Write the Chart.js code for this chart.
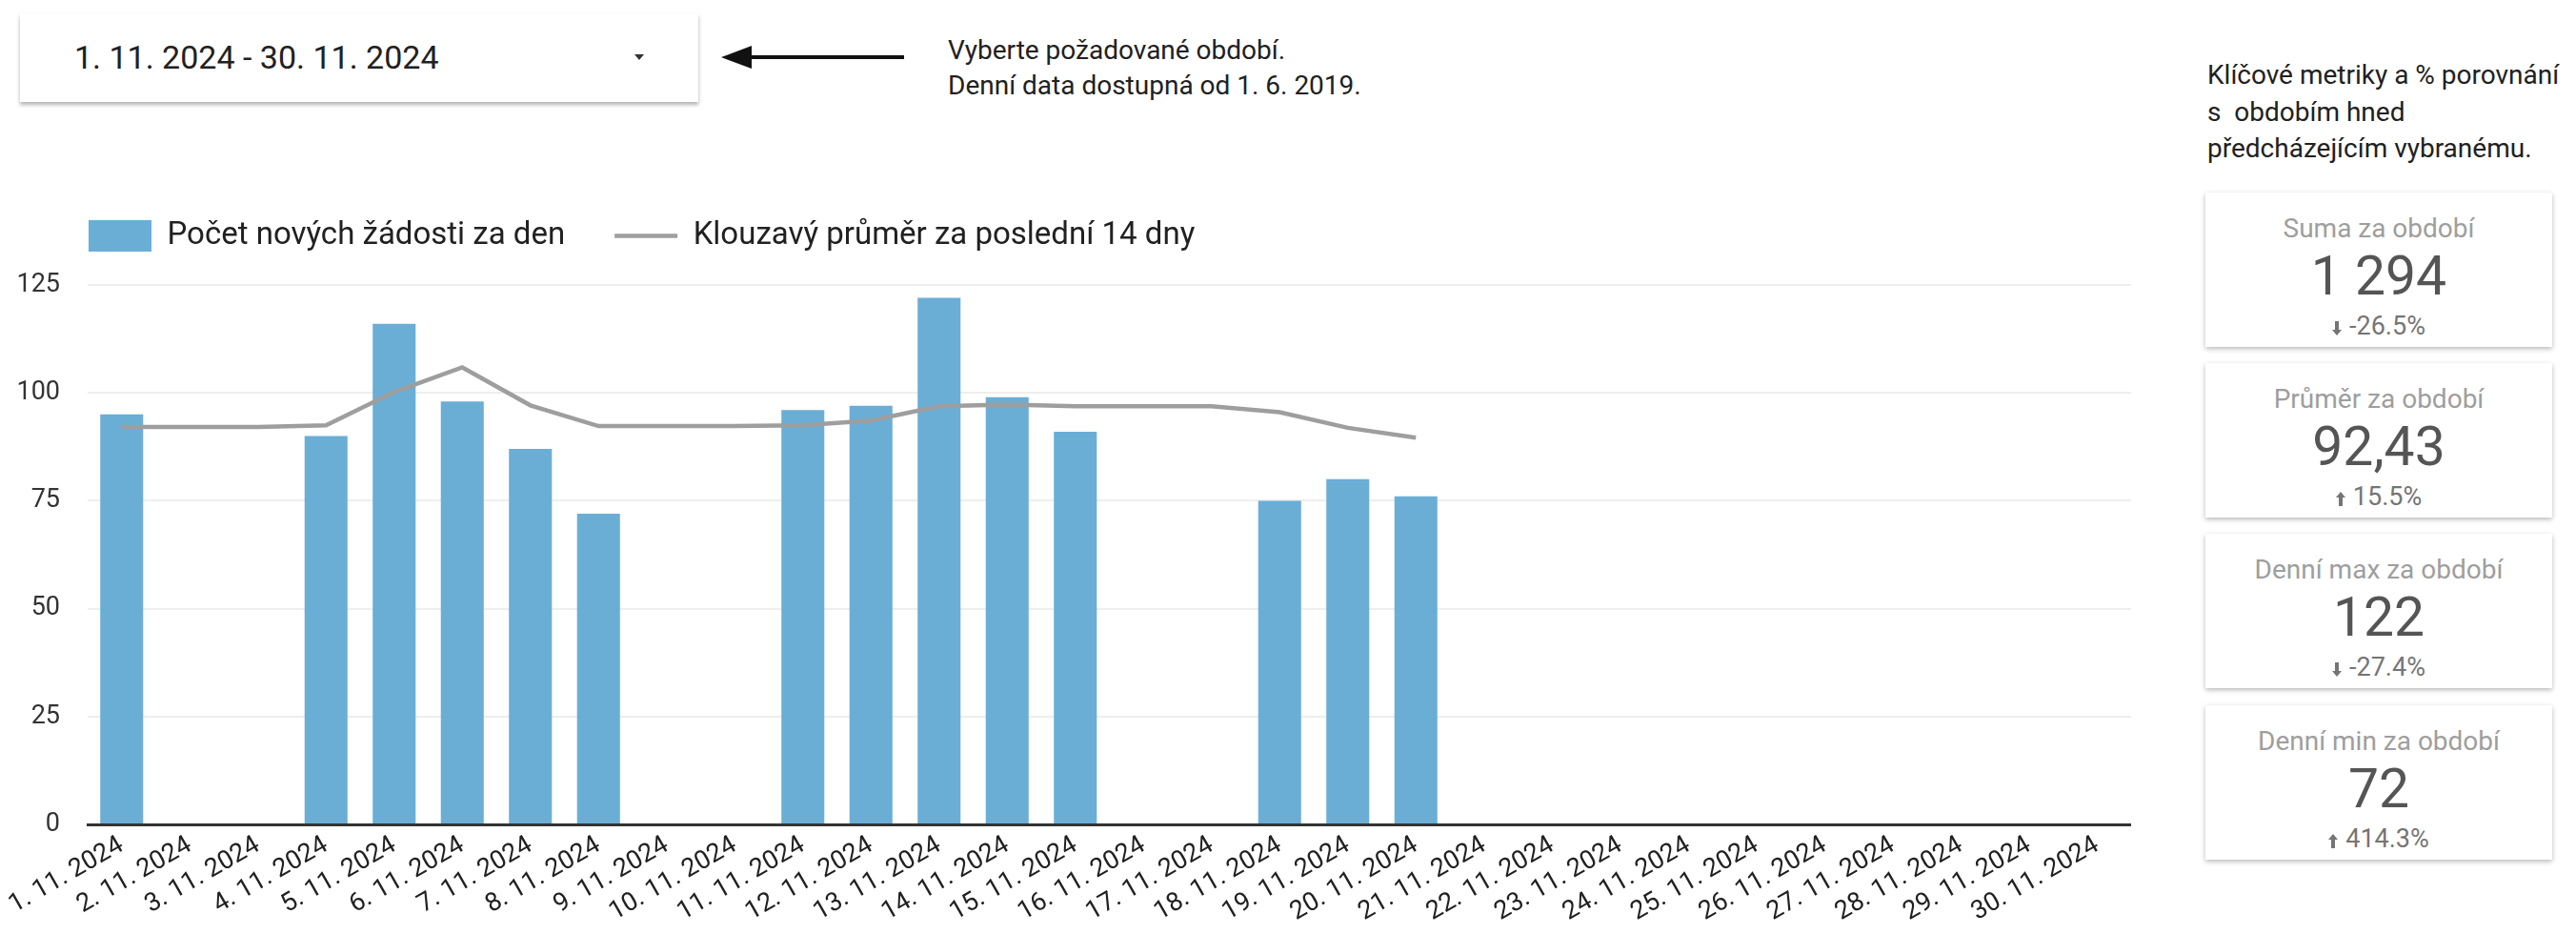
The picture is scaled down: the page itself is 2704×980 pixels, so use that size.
<!DOCTYPE html>
<html lang="cs">
<head>
<meta charset="utf-8">
<title>Počet nových žádostí</title>
<script src="https://cdn.jsdelivr.net/npm/chart.js@4/dist/chart.umd.min.js"></script>
<style>
  body { margin: 0; width: 2704px; height: 980px; background: #fff; font-family: Roboto, sans-serif; color: #212121; position: relative; overflow: hidden; }
  .picker { position: absolute; left: 21px; top: 14px; width: 712px; height: 93px; background: #fff; box-shadow: 0 3px 4px rgba(0,0,0,0.3); }
  .picker span { position: absolute; left: 57px; top: 0; line-height: 93px; font-size: 34px; color: #212121; }
  .picker i { position: absolute; left: 645px; top: 43px; border-left: 5px solid transparent; border-right: 5px solid transparent; border-top: 6px solid #333; }
  .arrow { position: absolute; left: 757px; top: 46px; }
  .note { position: absolute; left: 995px; top: 34px; font-size: 28px; line-height: 37px; }
  .side { position: absolute; left: 2317px; top: 60px; font-size: 28px; line-height: 38.5px; }
  .card { position: absolute; left: 2315px; width: 364px; height: 162px; background: #fff; box-shadow: 0 2px 5px rgba(0,0,0,0.28); text-align: center; }
  .card .t { position: absolute; left: 0; right: 0; top: 21px; font-size: 28px; color: #9e9e9e; }
  .card .v { position: absolute; left: 0; right: 0; top: 54px; font-size: 57px; color: #555; }
  .card .c { position: absolute; left: 0; right: 0; top: 124px; font-size: 27px; color: #757575; }
  .card svg { vertical-align: -1px; margin-right: 8px; }
  #chartBox { position: absolute; left: 0; top: 204px; width: 2237px; height: 776px; }
</style>
</head>
<body>

<div class="picker"><span>1. 11. 2024 - 30. 11. 2024</span><i></i></div>
<svg class="arrow" width="194" height="28" viewBox="0 0 194 28">
  <line x1="26" y1="14" x2="192" y2="14" stroke="#111" stroke-width="4"/>
  <polygon points="0,14 32,2 32,26" fill="#111"/>
</svg>
<div class="note">Vyberte požadované období.<br>Denní data dostupná od 1. 6. 2019.</div>

<div class="side">Klíčové metriky a % porovnání<br>s&nbsp; obdobím hned<br>předcházejícím vybranému.</div>
<div id="cards"></div>

<div id="chartBox"><canvas id="requestsChart"></canvas></div>

<script>
// days of the selected period
const days = [
  '1. 11. 2024', '2. 11. 2024', '3. 11. 2024', '4. 11. 2024', '5. 11. 2024',
  '6. 11. 2024', '7. 11. 2024', '8. 11. 2024', '9. 11. 2024', '10. 11. 2024',
  '11. 11. 2024', '12. 11. 2024', '13. 11. 2024', '14. 11. 2024', '15. 11. 2024',
  '16. 11. 2024', '17. 11. 2024', '18. 11. 2024', '19. 11. 2024', '20. 11. 2024',
  '21. 11. 2024', '22. 11. 2024', '23. 11. 2024', '24. 11. 2024', '25. 11. 2024',
  '26. 11. 2024', '27. 11. 2024', '28. 11. 2024', '29. 11. 2024', '30. 11. 2024'
];

// new requests per day (no data on weekends / after 20. 11.)
const newRequests = [
  95, null, null, 90, 116, 98, 87, 72, null, null,
  96, 97, 122, 99, 91, null, null, 75, 80, 76,
  null, null, null, null, null, null, null, null, null, null
];

// 14-day moving average
const movingAvg = [
  92.1, 92.1, 92.1, 92.5, 100.2, 105.9, 97.1, 92.3, 92.3, 92.3,
  92.5, 93.6, 96.9, 97.3, 96.9, 96.9, 96.9, 95.5, 91.9, 89.6,
  null, null, null, null, null, null, null, null, null, null
];

const yTicks = [0, 25, 50, 75, 100, 125];

// scorecards on the right
const cardTitles = ['Suma za období', 'Průměr za období', 'Denní max za období', 'Denní min za období'];
const cardValues = ['1 294', '92,43', '122', '72'];
const cardChanges = [-26.5, 15.5, -27.4, 414.3];
const cardTops = [202, 381, 560, 740];

const cardsEl = document.getElementById('cards');
cardTitles.forEach((title, i) => {
    const up = cardChanges[i] > 0;
    const icon = up
        ? '<svg width="10" height="15" viewBox="0 0 10 15"><polygon points="5,0 10,6 7,6 7,15 3,15 3,6 0,6" fill="#757575"/></svg>'
        : '<svg width="10" height="15" viewBox="0 0 10 15"><polygon points="5,15 10,9 7,9 7,0 3,0 3,9 0,9" fill="#757575"/></svg>';
    const card = document.createElement('div');
    card.className = 'card';
    card.style.top = cardTops[i] + 'px';
    card.innerHTML = '<div class="t">' + title + '</div>' +
        '<div class="v">' + cardValues[i] + '</div>' +
        '<div class="c">' + icon + cardChanges[i].toFixed(1) + '%</div>';
    cardsEl.appendChild(card);
});

// move the legend to where the report has it
const legendShift = {
    id: 'legendShift',
    afterLayout(chart) {
        const lg = chart.legend;
        lg.left += 41; lg.right += 41;
        lg.top -= 25; lg.bottom -= 25;
    }
};

Chart.defaults.font.family = 'Roboto';

const ctx = document.getElementById('requestsChart').getContext('2d');
const chart = new Chart(ctx, {
    data: {
        labels: days,
        datasets: [{
            type: 'bar',
            label: 'Počet nových žádosti za den',
            data: newRequests,
            backgroundColor: '#6aaed6',
            borderWidth: 0,
            barPercentage: 0.63,
            categoryPercentage: 1,
            order: 2
        }, {
            type: 'line',
            label: 'Klouzavý průměr za poslední 14 dny',
            data: movingAvg,
            borderColor: '#9e9e9e',
            borderWidth: 4.5,
            pointRadius: 0,
            tension: 0,
            order: 1
        }]
    },
    options: {
        responsive: true,
        maintainAspectRatio: false,
        animation: false,
        layout: { padding: 0 },
        plugins: {
            tooltip: { enabled: false },
            legend: {
                position: 'top',
                align: 'start',
                labels: {
                    usePointStyle: true,
                    pointStyleWidth: 66,
                    boxHeight: 33,
                    padding: 52,
                    color: '#212121',
                    font: { size: 33 },
                    sort: (a, b) => a.datasetIndex - b.datasetIndex,
                    generateLabels(chart) {
                        const items = Chart.defaults.plugins.legend.labels.generateLabels(chart);
                        items.forEach(item => {
                            const ds = chart.data.datasets[item.datasetIndex];
                            item.pointStyle = ds.type === 'line' ? 'line' : 'rect';
                            if (ds.type === 'line') item.strokeStyle = ds.borderColor;
                        });
                        return items;
                    }
                }
            }
        },
        scales: {
            x: {
                grid: { display: false, drawTicks: false },
                border: { color: '#333', width: 3 },
                ticks: {
                    autoSkip: false,
                    maxRotation: 30,
                    minRotation: 30,
                    padding: 6,
                    color: '#212121',
                    font: { size: 27 }
                },
                afterFit(scale) { scale.height = 115; }
            },
            y: {
                min: yTicks[0],
                max: yTicks[yTicks.length - 1],
                grid: { color: '#eeeeee', lineWidth: 2, drawTicks: false },
                border: { display: false },
                ticks: {
                    stepSize: yTicks[1] - yTicks[0],
                    padding: 29,
                    color: '#333',
                    font: { size: 27 }
                },
                afterFit(scale) { scale.width = 92; }
            }
        }
    },
    plugins: [legendShift]
});
</script>
</body>
</html>
